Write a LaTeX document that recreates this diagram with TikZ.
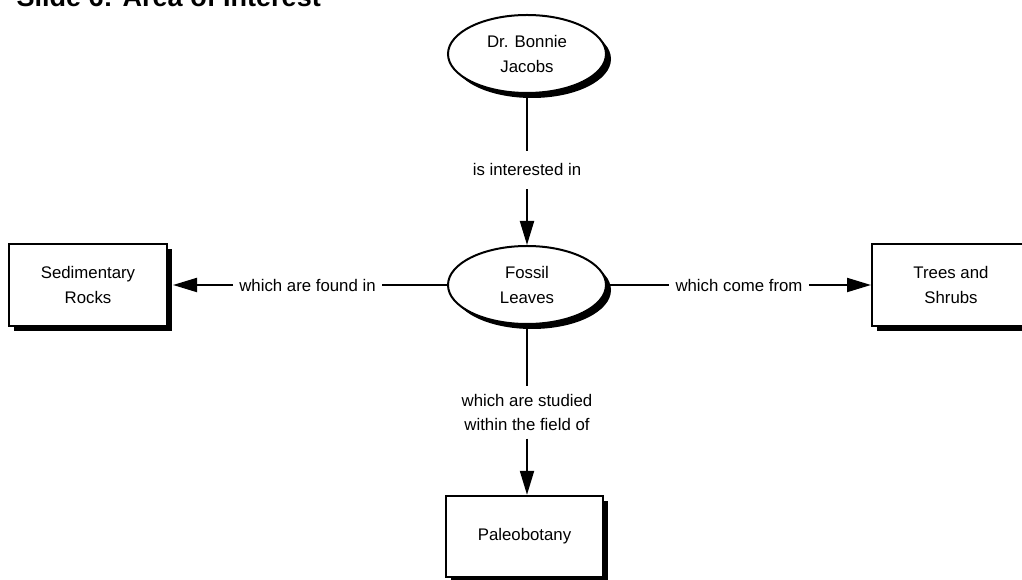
\documentclass[tikz,border=0pt]{standalone}
\usepackage{fontspec}
\setmainfont{Liberation Sans}
\usetikzlibrary{shapes.geometric,shadows,arrows.meta}
\begin{document}
\begin{tikzpicture}[x=0.75pt,y=-0.75pt,
  every node/.style={font=\fontsize{12.6}{18.5}\selectfont},
  conc/.style={draw=black,line width=1.5pt,fill=white,
    drop shadow={shadow xshift=3.75pt,shadow yshift=-3.75pt,opacity=1,fill=black}},
  ell/.style={conc,ellipse,minimum width=118.5pt,minimum height=58.5pt,inner sep=0pt,align=center},
  box/.style={conc,rectangle,minimum width=118.5pt,minimum height=62pt,inner sep=0pt,align=center},
  lab/.style={inner xsep=4.5pt,inner ysep=0pt,align=center},
  conn/.style={line width=1.5pt},
  arr/.style={conn,-{Triangle[length=18pt,width=10.5pt]}}]
\useasboundingbox (0,0) rectangle (1022,580);
\node[anchor=base west,font=\bfseries\fontsize{20.25}{24}\selectfont] (title) at (12,6.5) {Slide 6: Area of Interest};
\node[ell] (dr) at (527,54) {Dr. Bonnie\\Jacobs};
\node[ell] (fossil) at (527,285) {Fossil\\Leaves};
\node[box] (sed) at (88,285) {Sedimentary\\Rocks};
\node[box] (trees) at (951,285) {Trees and\\Shrubs};
\node[box,minimum width=117.75pt,minimum height=61pt] (paleo) at (524.5,536.5) {Paleobotany};
\node[lab,inner ysep=9.75pt] (linter) at (527,170) {is interested in};
\node[lab] (lfound) at (307.5,285) {which are found in};
\node[lab] (lcome) at (739,285) {which come from};
\node[lab,inner ysep=5.6pt] (lstud) at (527,412.5) {which are studied\\within the field of};
\draw[conn] (dr.south) -- (linter.north);
\draw[arr] (linter.south) -- (fossil.north);
\draw[conn] (fossil.west) -- (lfound.east);
\draw[arr] (lfound.west) -- ([xshift=3.75pt]sed.east);
\draw[conn] (fossil.east) -- (lcome.west);
\draw[arr] (lcome.east) -- (trees.west);
\draw[conn] (fossil.south) -- (lstud.north);
\draw[arr] (lstud.south) -- (paleo.north -| lstud.south);
\end{tikzpicture}
\end{document}
